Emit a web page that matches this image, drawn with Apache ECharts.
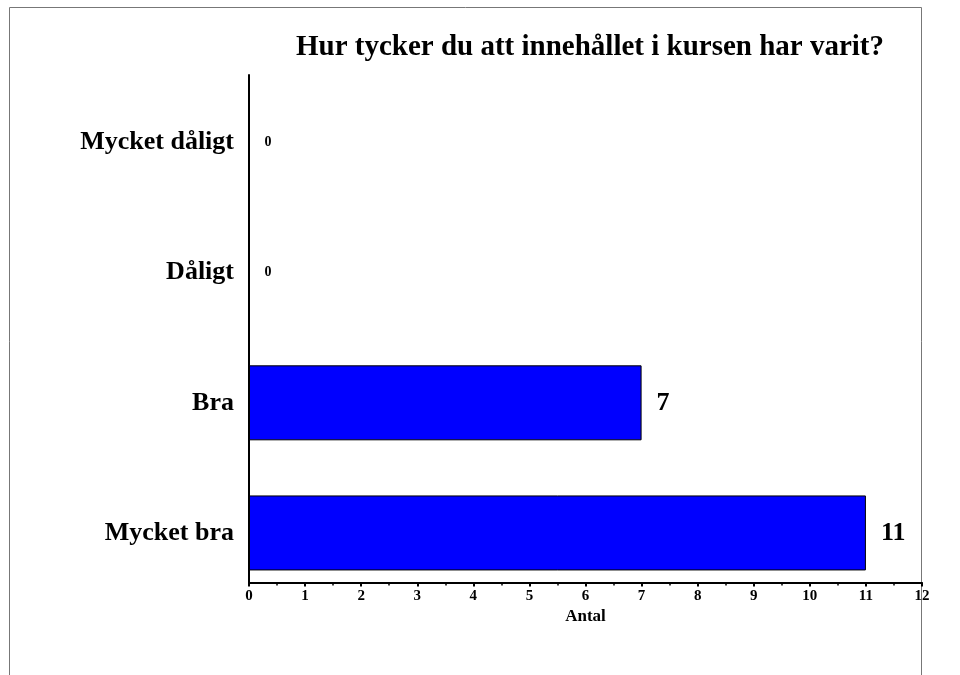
<!DOCTYPE html>
<html>
    <head>
        <meta charset="utf-8">
        <script src="https://cdn.jsdelivr.net/npm/echarts@6/dist/echarts.min.js"></script>
    </head>
    <body>
        <style>
            html, body, #main {
                width: 960px;
                height: 675px;
                margin: 0;
                background: #fff;
            }
        </style>
        <div id="main"></div>
        <script>
            // categories bottom to top
            var categories = ['Mycket bra', 'Bra', 'Dåligt', 'Mycket dåligt'];
            var counts = [11, 7, 0, 0];
            var xTicks = [0, 1, 2, 3, 4, 5, 6, 7, 8, 9, 10, 11, 12];

            var serif = '"Liberation Serif", "DejaVu Serif", serif';
            var xMin = xTicks[0], xMax = xTicks[xTicks.length - 1];

            var chart = echarts.init(document.getElementById('main'));

            chart.setOption({
                backgroundColor: '#fff',
                title: {
                    text: 'Hur tycker du att innehållet i kursen har varit?',
                    left: 585,
                    textAlign: 'center',
                    top: 28,
                    textStyle: {
                        fontFamily: serif,
                        fontWeight: 'bold',
                        fontSize: 29,
                        color: '#000'
                    }
                },
                graphic: [{
                    type: 'rect',
                    shape: { x: 9.5, y: 7.5, width: 912, height: 700 },
                    style: { fill: null, stroke: '#777', lineWidth: 1 },
                    silent: true
                }],
                // grid 0: bars + category labels, grid 1: axis frame + value ticks
                grid: [
                    { left: 249, right: 38, top: 77.5, bottom: 77 },
                    { left: 249, right: 38, top: 75, bottom: 92.5 }
                ],
                xAxis: [{
                    gridIndex: 0,
                    type: 'value',
                    min: xMin,
                    max: xMax,
                    show: false
                }, {
                    gridIndex: 1,
                    type: 'value',
                    min: xMin,
                    max: xMax,
                    interval: 1,
                    name: 'Antal',
                    nameLocation: 'middle',
                    nameGap: 23,
                    nameTextStyle: {
                        fontFamily: serif,
                        fontWeight: 'bold',
                        fontSize: 17,
                        color: '#000'
                    },
                    axisLine: { show: true, lineStyle: { color: '#000', width: 2 } },
                    axisTick: { show: true, length: 4, lineStyle: { color: '#000', width: 2 } },
                    minorTick: { show: true, splitNumber: 2, length: 3, lineStyle: { color: '#000', width: 1.5 } },
                    splitLine: { show: false },
                    axisLabel: {
                        margin: 6,
                        fontFamily: serif,
                        fontWeight: 'bold',
                        fontSize: 15,
                        color: '#000'
                    }
                }],
                yAxis: [{
                    gridIndex: 0,
                    type: 'category',
                    data: categories,
                    axisLine: { show: false },
                    axisTick: { show: false },
                    splitLine: { show: false },
                    axisLabel: {
                        margin: 15,
                        fontFamily: serif,
                        fontWeight: 'bold',
                        fontSize: 26,
                        color: '#000'
                    }
                }, {
                    gridIndex: 1,
                    type: 'value',
                    axisLine: { show: true, lineStyle: { color: '#000', width: 2 } },
                    axisTick: { show: false },
                    axisLabel: { show: false },
                    splitLine: { show: false }
                }],
                series: [{
                    type: 'bar',
                    xAxisIndex: 0,
                    yAxisIndex: 0,
                    data: counts.map(function (v) {
                        return {
                            value: v,
                            label: { fontSize: v === 0 ? 14 : 26 }
                        };
                    }),
                    barWidth: 75,
                    itemStyle: {
                        color: '#0000ff',
                        borderColor: '#000',
                        borderWidth: 1
                    },
                    label: {
                        show: true,
                        position: 'right',
                        distance: 15,
                        fontFamily: serif,
                        fontWeight: 'bold',
                        color: '#000'
                    },
                    silent: true
                }]
            });
        </script>
    </body>
</html>
